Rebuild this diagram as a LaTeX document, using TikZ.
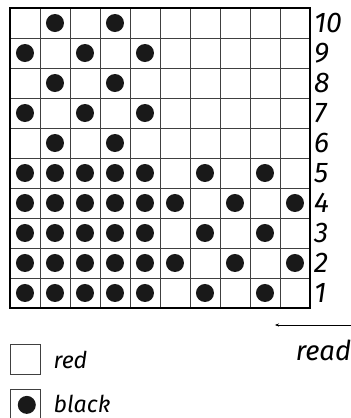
\documentclass[tikz,border=0pt]{standalone}
\usepackage{fontspec}
\setmainfont{Fira Sans}
\usetikzlibrary{arrows.meta}

\begin{document}
\begin{tikzpicture}[
        cellline/.style={draw=black!75, line width=0.6pt},
        frameline/.style={draw=black, line width=1.2pt},
        stitchdot/.style={fill=black!90},
        rowlabel/.style={anchor=west, inner sep=0pt, font=\fontsize{27}{32}\selectfont\itshape},
        keytext/.style={anchor=west, inner sep=0pt, font=\fontsize{22}{26}\selectfont\itshape},
        readarrow/.style={-{Stealth[length=4pt, width=3pt]}, line width=0.6pt}
    ]
    \useasboundingbox (-0.333,-3.667) rectangle (11.367,10.267);

    % ==========================================
    % CHART: 10 x 10 cells
    % ==========================================
    \draw[cellline] (0,0) grid (10,10);
    \draw[frameline] (0,0) rectangle (10,10);

    % dots, row by row (row/columns)
    \foreach \row/\cols in {10/{2,4}, 9/{1,3,5}, 8/{2,4}, 7/{1,3,5}, 6/{2,4},
                            5/{1,2,3,4,5,7,9}, 4/{1,2,3,4,5,6,8,10},
                            3/{1,2,3,4,5,7,9}, 2/{1,2,3,4,5,6,8,10},
                            1/{1,2,3,4,5,7,9}}
        \foreach \col in \cols
            \fill[stitchdot] (\col-0.5,\row-0.5) circle (0.3);

    % row numbers
    \foreach \row in {1,...,10}
        \node[rowlabel] (row\row) at (10.13,\row-0.5) {\row};

    % ==========================================
    % READING DIRECTION
    % ==========================================
    \coordinate (arrowstart) at (11.367,-0.567);
    \coordinate (arrowend) at (8.83,-0.567);
    \draw[readarrow] (arrowstart) -- (arrowend);
    \node[keytext, anchor=center, font=\fontsize{26}{30}\selectfont\itshape] (readlabel) at (10.45,-1.42) {read};

    % ==========================================
    % KEY
    % ==========================================
    \draw[cellline] (0,-2.2) rectangle (1,-1.2); % red
    \node[keytext] (redlabel) at (1.45,-1.73) {red};

    \draw[cellline] (0,-3.75) rectangle (1,-2.7); % black
    \fill[stitchdot] (0.56,-3.23) circle (0.3);
    \node[keytext] (blacklabel) at (1.45,-3.2) {black};

\end{tikzpicture}
\end{document}
